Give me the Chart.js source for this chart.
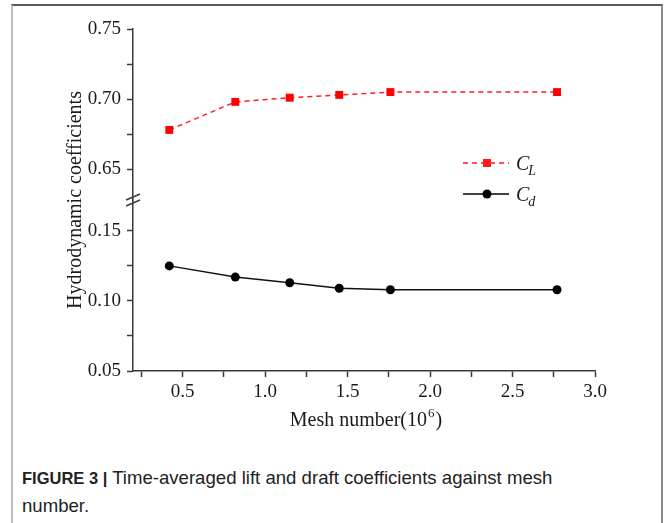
<!DOCTYPE html>
<html>
<head>
<meta charset="utf-8">
<script src="https://cdn.jsdelivr.net/npm/chart.js@4/dist/chart.umd.min.js"></script>
<style>
  html, body { margin: 0; padding: 0; background: #fff; }
  body { width: 664px; height: 523px; position: relative; overflow: hidden; }
  #frame { position: absolute; left: 11px; top: 4px; width: 648px; height: 530px;
           border-top: 2px solid #5a5a5a; border-left: 2px solid #bdbdbd; border-right: 2px solid #8a8a8a; }
  #chart { position: absolute; left: 0; top: 0; }
  #caption { position: absolute; left: 22px; top: 464px; width: 630px;
             font-family: "Liberation Sans", Arial, sans-serif; font-size: 18.6px; line-height: 27px; color: #222; }
  #caption b { font-weight: bold; font-size: 16.5px; }
</style>
</head>
<body>
<div id="frame"></div>
<canvas id="chart" width="664" height="440"></canvas>
<div id="caption"><b>FIGURE 3 |</b> Time-averaged lift and draft coefficients against mesh<br>number.</div>
<script>
// ---- data ----
const meshNumbers = [0.42, 0.82, 1.15, 1.45, 1.76, 2.77];   // x (10^6)
const liftCoeff   = [0.678, 0.698, 0.701, 0.703, 0.705, 0.705]; // C_L
const dragCoeff   = [0.125, 0.117, 0.113, 0.109, 0.108, 0.108]; // C_d
const xTickLabels = ['0.5', '1.0', '1.5', '2.0', '2.5', '3.0'];
const yTickLabelsUpper = ['0.65', '0.70', '0.75'];
const yTickLabelsLower = ['0.05', '0.10', '0.15'];

const SERIF = '"Liberation Serif", "Times New Roman", serif';
const AXIS_COLOR = '#3a3a3a';

function toPts(xs, ys) { return xs.map((x, i) => ({ x: x, y: ys[i] })); }
function near(list, v) { return list.find(s => Math.abs(parseFloat(s) - v) < 1e-6) || ''; }

const decorPlugin = {
  id: 'decor',
  afterDraw(chart) {
    const ctx = chart.ctx;
    const ca = chart.chartArea;
    const yb = chart.scales.yLower, yt = chart.scales.yUpper;
    ctx.save();
    // axis break marks
    const bx = ca.left;
    const by = (yb.top + yt.bottom) / 2;
    ctx.strokeStyle = AXIS_COLOR; ctx.lineWidth = 1.5;
    [-3, 3].forEach(d => {
      ctx.beginPath();
      ctx.moveTo(bx - 7, by + d + 3);
      ctx.lineTo(bx + 7, by + d - 3);
      ctx.stroke();
    });
    // y title
    ctx.fillStyle = '#1a1a1a';
    ctx.font = '20px ' + SERIF;
    ctx.textAlign = 'center'; ctx.textBaseline = 'middle';
    ctx.translate(76, (ca.top + ca.bottom) / 2);
    ctx.rotate(-Math.PI / 2);
    ctx.fillText('Hydrodynamic coefficients', 0, 0);
    ctx.setTransform(1, 0, 0, 1, 0, 0);
    // x title with superscript
    ctx.font = '20px ' + SERIF;
    ctx.textAlign = 'left'; ctx.textBaseline = 'alphabetic';
    const t1 = 'Mesh number(10', sup = '6', t2 = ')';
    const w1 = ctx.measureText(t1).width;
    ctx.font = '13px ' + SERIF;
    const ws = ctx.measureText(sup).width;
    ctx.font = '20px ' + SERIF;
    const w2 = ctx.measureText(t2).width;
    const cx = (ca.left + ca.right) / 2 + 1;
    let x0 = cx - (w1 + ws + w2) / 2;
    const base = 426;
    ctx.fillText(t1, x0, base);
    ctx.font = '13px ' + SERIF;
    ctx.fillText(sup, x0 + w1 + 1, base - 9);
    ctx.font = '20px ' + SERIF;
    ctx.fillText(t2, x0 + w1 + ws + 2, base);
    // legend
    const items = [
      { color: '#ff1a1a', dash: [5, 4], style: 'rect', sub: 'L', y: 163 },
      { color: '#000000', dash: [], style: 'circle', sub: 'd', y: 194 }
    ];
    items.forEach(it => {
      ctx.strokeStyle = it.color; ctx.lineWidth = 1.5; ctx.setLineDash(it.dash);
      ctx.beginPath(); ctx.moveTo(463, it.y); ctx.lineTo(509, it.y); ctx.stroke();
      ctx.setLineDash([]);
      ctx.fillStyle = it.color;
      if (it.style === 'rect') { ctx.fillRect(483, it.y - 4, 8, 8); }
      else { ctx.beginPath(); ctx.arc(487, it.y, 4.5, 0, Math.PI * 2); ctx.fill(); }
      ctx.fillStyle = '#1a1a1a';
      ctx.font = 'italic 20px ' + SERIF;
      ctx.textAlign = 'left'; ctx.textBaseline = 'alphabetic';
      ctx.fillText('C', 516, it.y + 7);
      const cw = ctx.measureText('C').width;
      ctx.font = 'italic 14px ' + SERIF;
      ctx.fillText(it.sub, 516 + cw - 1, it.y + 12);
    });
    ctx.restore();
  }
};

const yCommon = {
  type: 'linear', position: 'left', stack: 'coef', stackWeight: 1, offset: false,
  border: { display: true, color: AXIS_COLOR, width: 1.5 },
  grid: { drawOnChartArea: false, drawTicks: true, tickLength: 6, tickColor: AXIS_COLOR, tickWidth: 1.5 },
  afterFit(scale) { scale.width = 133; }
};

new Chart(document.getElementById('chart'), {
  type: 'line',
  data: {
    datasets: [
      { label: 'C_L', data: toPts(meshNumbers, liftCoeff), yAxisID: 'yUpper',
        borderColor: '#ff2020', backgroundColor: '#ff0000', borderWidth: 1.5, borderDash: [5, 4],
        pointStyle: 'rect', pointRadius: 5.6, pointBorderWidth: 0, tension: 0 },
      { label: 'C_d', data: toPts(meshNumbers, dragCoeff), yAxisID: 'yLower',
        borderColor: '#111111', backgroundColor: '#000000', borderWidth: 1.5,
        pointStyle: 'circle', pointRadius: 4.5, pointBorderWidth: 0, tension: 0 }
    ]
  },
  options: {
    responsive: false, animation: false, devicePixelRatio: 1,
    layout: { padding: { left: 0, right: 69, top: 29, bottom: 0 } },
    plugins: { legend: { display: false }, tooltip: { enabled: false } },
    scales: {
      x: {
        type: 'linear', position: 'bottom', min: 0.2, max: 3.0,
        border: { display: true, color: AXIS_COLOR, width: 1.5 },
        grid: { drawOnChartArea: false, drawTicks: true, tickLength: 6, tickColor: AXIS_COLOR, tickWidth: 1.5 },
        ticks: { stepSize: 0.25, autoSkip: false, includeBounds: false, maxRotation: 0, padding: 4,
                 color: '#1a1a1a', font: { family: SERIF, size: 19 },
                 callback: v => near(xTickLabels, v) },
        afterFit(scale) { scale.height = 69; }
      },
      yLower: Object.assign({}, yCommon, {
        min: 0.05, max: 0.172,
        ticks: { stepSize: 0.025, autoSkip: false, includeBounds: false, padding: 6,
                 color: '#1a1a1a', font: { family: SERIF, size: 19 },
                 callback: v => near(yTickLabelsLower, v) }
      }),
      yUpper: Object.assign({}, yCommon, {
        min: 0.628, max: 0.75,
        ticks: { stepSize: 0.025, autoSkip: false, includeBounds: false, padding: 6,
                 color: '#1a1a1a', font: { family: SERIF, size: 19 },
                 callback: v => near(yTickLabelsUpper, v) }
      })
    }
  },
  plugins: [decorPlugin]
});
</script>
</body>
</html>
